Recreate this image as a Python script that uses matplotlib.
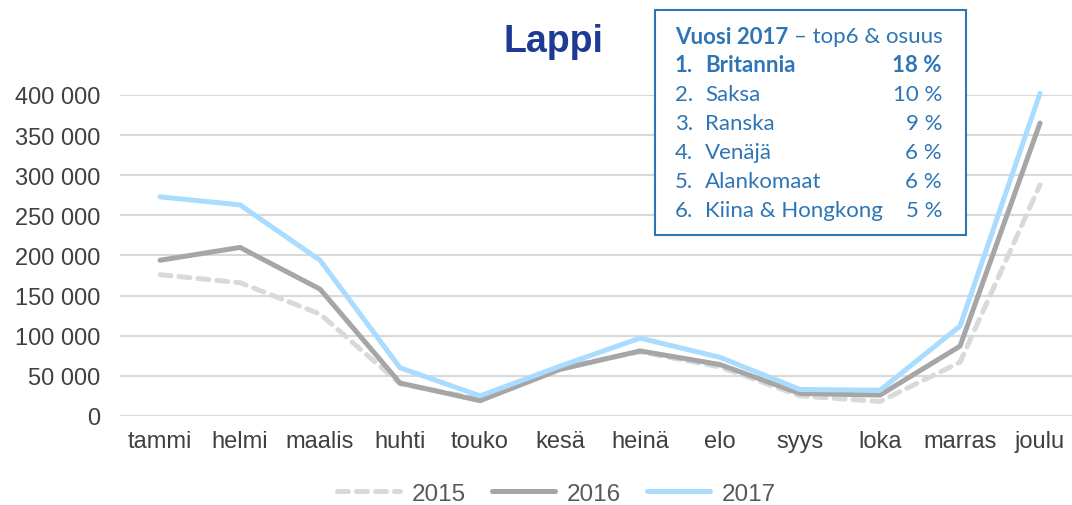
import matplotlib.pyplot as plt
import numpy as np

months = ["tammi", "helmi", "maalis", "huhti", "touko", "kesä",
          "heinä", "elo", "syys", "loka", "marras", "joulu"]
v2015 = [176000, 166000, 127000, 40000, 21000, 60000,
         80000, 61000, 25000, 18000, 67000, 288000]
v2016 = [194000, 210000, 158000, 41000, 19000, 58000,
         81000, 64000, 28000, 26000, 87000, 365000]
v2017 = [273000, 263000, 194000, 60000, 25000, 62000,
         97000, 73000, 33000, 32000, 112000, 402000]

top_names = ["Britannia", "Saksa", "Ranska", "Venäjä", "Alankomaat", "Kiina & Hongkong"]
top_share = [18, 10, 9, 6, 6, 5]

plt.rcParams['font.family'] = ['Liberation Sans', 'DejaVu Sans']

fig = plt.figure(figsize=(10.72, 5.06), dpi=100)
ax = fig.add_axes([0.112, 0.176, 0.8955, 0.6344])

x = np.arange(len(months))
ax.plot(x, v2015, color='#D9D9D9', lw=3.6, ls=(0, (2.2, 1.6)), label='2015',
        solid_capstyle='round', dash_capstyle='round', clip_on=False)
ax.plot(x, v2016, color='#A6A6A6', lw=3.6, label='2016',
        solid_capstyle='round', clip_on=False)
ax.plot(x, v2017, color='#A9DCFF', lw=3.6, label='2017',
        solid_capstyle='round', clip_on=False)

ax.set_xlim(-0.5, len(months) - 0.5)
ax.set_ylim(0, 400000)
yt = np.arange(0, 400001, 50000)
ax.set_yticks(yt)
ax.set_yticklabels(["{:,}".format(v).replace(",", " ") for v in yt])
ax.set_xticks(x)
ax.set_xticklabels(months)
ax.tick_params(axis='both', length=0, labelsize=17, colors='#404040')
ax.tick_params(axis='x', pad=10)
ax.tick_params(axis='y', pad=14)
ax.grid(axis='y', color='#D9D9D9', lw=1.5)
ax.set_axisbelow(True)
for s in ax.spines.values():
    s.set_visible(False)

fig.text(0.516, 0.917, "Lappi", ha='center', va='center', fontsize=27,
         fontweight='bold', color='#1F3A93')

leg = fig.legend(loc='center', bbox_to_anchor=(0.519, 0.022), ncol=3, frameon=False,
                 fontsize=17.5, handlelength=2.6, columnspacing=1.1, handletextpad=0.45)
for t in leg.get_texts():
    t.set_color('#595959')

# info box
W, H = 1072, 506
blue = '#2E75B6'
box = plt.Rectangle((655 / W, 1 - 236 / H), 311 / W, 225 / H, transform=fig.transFigure,
                    fill=True, facecolor='white', edgecolor=blue, lw=1.5)
fig.patches.append(box)
fam = ['Lato', 'DejaVu Sans']
fs = 16
t1 = fig.text(675 / W, 1 - 37 / H, "Vuosi 2017", fontsize=fs, fontweight='bold', color=blue,
              va='center', family=fam)
fig.canvas.draw()
bb = t1.get_window_extent()
fig.text((bb.x1 + 6) / W, 1 - 37 / H, "– top6 & osuus", fontsize=fs, color=blue,
         va='center', family=fam)
for i, (n, s) in enumerate(zip(top_names, top_share)):
    y = 1 - (66 + 29 * i) / H
    w = 'bold' if i == 0 else 'normal'
    fig.text(675 / W, y, f"{i + 1}.", fontsize=fs, fontweight=w, color=blue, va='center', family=fam)
    fig.text(705 / W, y, n, fontsize=fs, fontweight=w, color=blue, va='center', family=fam)
    fig.text(942 / W, y, f"{s} %", fontsize=fs, fontweight=w, color=blue, va='center',
             ha='right', family=fam)

fig.savefig("out.png", dpi=100)
